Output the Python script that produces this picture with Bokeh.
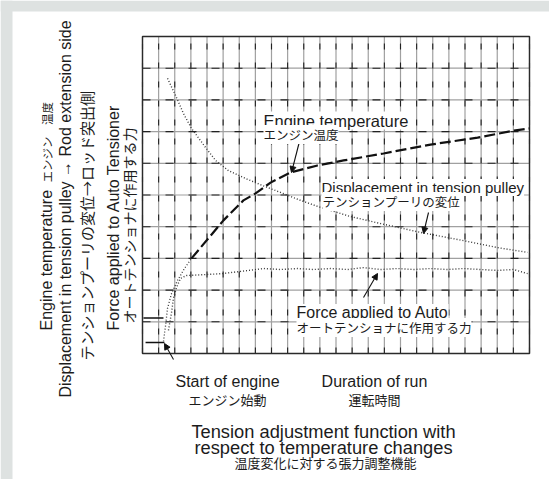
from bokeh.plotting import figure
from bokeh.models import Range1d, Label, Arrow, NormalHead
from bokeh.embed import file_html
from bokeh.resources import INLINE

# ---------------- data (grid units: 24 columns x 10 rows) ----------------
grid_cols = list(range(0, 25))
grid_rows = list(range(0, 11))

# engine temperature: faint initial rise, then the dashed curve
temp_rise_x = [1.30, 1.43, 1.55, 1.80, 2.17, 2.60, 3.04]
temp_rise_y = [0.38, 0.88, 1.42, 1.89, 2.30, 2.68, 3.00]
temp_x = [3.04, 5.02, 6.26, 7.01, 7.94, 9.18, 10.85, 12.47, 14.95, 17.86, 20.78, 23.01, 24.0]
temp_y = [3.00, 4.20, 4.83, 5.05, 5.39, 5.71, 5.93, 6.09, 6.31, 6.59, 6.81, 7.03, 7.10]

disp_x = [1.55, 2.05, 2.54, 3.04, 3.91, 4.53, 5.33, 6.39, 7.44, 8.56, 9.80, 11.04, 12.90, 14.76, 17.24, 19.91, 22.02, 23.88]
disp_y = [8.68, 8.14, 7.57, 7.10, 6.50, 6.09, 5.77, 5.52, 5.30, 5.08, 4.83, 4.61, 4.32, 4.10, 3.82, 3.56, 3.34, 3.19]

force_x = [1.61, 1.80, 1.92, 2.11, 2.36, 2.73, 3.91, 4.96, 6.08, 7.50, 8.56, 9.61, 10.60, 11.66, 12.71, 13.71, 14.76, 15.81, 16.81, 17.86, 18.91, 19.91, 20.96, 22.02, 23.01, 23.88]
force_y = [0.73, 1.29, 1.74, 2.08, 2.37, 2.46, 2.49, 2.52, 2.59, 2.68, 2.65, 2.68, 2.65, 2.68, 2.65, 2.71, 2.65, 2.68, 2.65, 2.68, 2.65, 2.68, 2.65, 2.62, 2.65, 2.52]

start_marks_x0 = [0.06, 0.19]
start_marks_x1 = [1.30, 1.36]
start_marks_y = [1.12, 0.35]

# ---------------- geometry helpers (page pixels -> grid units) ----------------
GX0, GX1, GY0, GY1 = 142.0, 529.0, 36.0, 353.0
CW = (GX1 - GX0) / 24.0
RH = (GY1 - GY0) / 10.0


def X(px):
    return (px - GX0) / CW


def Y(py):
    return (GY1 - py) / RH


W, H = 549, 479
p = figure(width=W, height=H, x_range=Range1d(X(0), X(W)), y_range=Range1d(Y(H), Y(0)),
           min_border=0, toolbar_location=None, output_backend="svg",
           x_axis_location=None, y_axis_location=None)
p.grid.visible = False
p.outline_line_color = None
p.background_fill_color = "white"
p.border_fill_color = "white"

# gray page strips
GRAY = "#dee2e1"
p.quad(left=[X(0)], right=[X(12)], top=[Y(0)], bottom=[Y(H)], fill_color=GRAY, line_color=None)
p.quad(left=[X(0)], right=[X(W)], top=[Y(0)], bottom=[Y(11)], fill_color=GRAY, line_color=None)

# graph-paper grid
vx = grid_cols
hy = grid_rows
p.segment(x0=vx, y0=[hy[0]] * len(vx), x1=vx, y1=[hy[-1]] * len(vx), line_color="#a0a0a0", line_width=1.2)
p.segment(x0=[vx[0]] * len(hy), y0=hy, x1=[vx[-1]] * len(hy), y1=hy, line_color="#a0a0a0", line_width=1.2)
p.segment(x0=vx, y0=[hy[0]] * len(vx), x1=vx, y1=[hy[-1]] * len(vx), line_color="#222222", line_width=1.1, line_dash="6 13")
p.segment(x0=[vx[0]] * len(hy), y0=hy, x1=[vx[-1]] * len(hy), y1=hy, line_color="#222222", line_width=1.1, line_dash="8 15")
p.quad(left=[vx[0]], right=[vx[-1]], bottom=[hy[0]], top=[hy[-1]],
       fill_color=None, line_color="#2a2a2a", line_width=1.4)

# curves
p.line(force_x, force_y, line_color="#383838", line_width=1.4, line_dash="1 2")
p.line(disp_x, disp_y, line_color="#383838", line_width=1.4, line_dash="1 2")
p.line(temp_rise_x, temp_rise_y, line_color="#383838", line_width=1.3, line_dash="1 2")
p.line(temp_x, temp_y, line_color="#111111", line_width=2.2, line_dash="11 4")
p.segment(x0=start_marks_x0, y0=start_marks_y, x1=start_marks_x1, y1=start_marks_y, line_color="#111111", line_width=1.5)

# arrows
for (xs, ys, xe, ye) in [(300, 137, 291, 172), (428, 212, 423, 233), (363, 297, 377, 273), (173, 359, 164, 343)]:
    p.add_layout(Arrow(x_start=X(xs), y_start=Y(ys), x_end=X(xe), y_end=Y(ye), line_width=1.1, line_color="#111111",
                       end=NormalHead(size=6, fill_color="#111111", line_color="#111111")))

EN = "Liberation Sans"
JP = "Noto Sans CJK JP"
TXT = "#1c1c1c"


def lab(px, py, text, size, font=EN, align="left", angle=0, bg=None):
    p.add_layout(Label(x=X(px), y=Y(py), text=text, text_font=font, text_font_size=f"{size}px",
                       text_color=TXT, text_align=align, text_baseline="alphabetic",
                       angle=angle, angle_units="deg", background_fill_color=bg))


# in-chart labels
lab(263, 120, "Engine temperature", 16.5, bg="white")
lab(263, 134, "エンジン温度", 12.5, JP, bg="white")
lab(321, 187, "Displacement in tension pulley", 15, bg="white")
lab(322, 201, "テンションプーリの変位", 12.5, JP, bg="white")
lab(296, 312, "Force applied to Auto", 16, bg="white")
lab(296, 327, "オートテンショナに作用する力", 12.5, JP, bg="white")

# below chart
lab(227, 381, "Start of engine", 16, align="center")
lab(227, 399, "エンジン始動", 13, JP, align="center")
lab(374, 381, "Duration of run", 16, align="center")
lab(374, 399, "運転時間", 13, JP, align="center")
lab(323, 431, "Tension adjustment function with", 18.3, align="center")
lab(323, 447, "respect to temperature changes", 18.3, align="center")
lab(325, 462, "温度変化に対する張力調整機能", 13, JP, align="center")

# rotated axis titles
lab(46, 330, "Engine temperature", 16, angle=90)
lab(46, 182, "エンジン　温度", 11.5, JP, angle=90)
lab(65, 397, "Displacement in tension pulley → Rod extension side", 16, angle=90)
lab(86, 360, "テンションプーリの変位→ロッド突出側", 15, JP, angle=90)
lab(113, 330, "Force applied to Auto Tensioner", 16, angle=90)
lab(128, 323, "オートテンショナに作用する力", 14, JP, angle=90)

open("out.html", "w").write(file_html(p, INLINE))
